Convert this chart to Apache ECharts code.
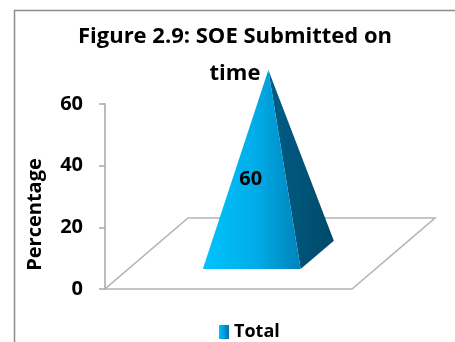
<!DOCTYPE html>
<html>
<head>
<meta charset="utf-8">
<style>
  html, body { margin: 0; padding: 0; background: #fff; }
  #chart { width: 455px; height: 342px; }
</style>
<script src="https://cdn.jsdelivr.net/npm/echarts@6/dist/echarts.min.js"></script>
</head>
<body>
<div id="chart"></div>
<script>
// Chart data
const categories = ['Total'];
const totalValues = [60];
const yTicks = { min: 0, max: 60, interval: 20 };
const titleText = 'Figure 2.9: SOE Submitted on\ntime';
const yAxisTitle = 'Percentage';

const FONT = '"Open Sans", sans-serif';

// Depth vector of the 3D floor (screen pixels from front edge to back edge)
const DEPTH_X = 83, DEPTH_Y = -71;

const chart = echarts.init(document.getElementById('chart'), null, { renderer: 'canvas' });

function renderFloor(params, api) {
  const cs = params.coordSys;
  const x0 = cs.x, x1 = cs.x + cs.width, y0 = cs.y + cs.height;
  return {
    type: 'polygon',
    shape: { points: [[x0, y0], [x1, y0], [x1 + DEPTH_X, y0 + DEPTH_Y], [x0 + DEPTH_X, y0 + DEPTH_Y]] },
    style: { fill: 'none', stroke: '#b4b4b4', lineWidth: 1.6 },
    silent: true
  };
}

function renderPyramid(params, api) {
  const cat = api.value(0);
  const v = api.value(1);
  const base = api.coord([cat, 0]);
  const top = api.coord([cat, v]);
  const h = base[1] - top[1];
  const hw = api.size([1, 0])[0] * 0.198;
  const f0 = 0.28, f1 = 0.68, fm = 0.48;
  const fl = [base[0] + f0 * DEPTH_X - hw, base[1] + f0 * DEPTH_Y];
  const fr = [base[0] + f0 * DEPTH_X + hw, base[1] + f0 * DEPTH_Y];
  const br = [base[0] + f1 * DEPTH_X + hw, base[1] + f1 * DEPTH_Y];
  const apex = [base[0] + fm * DEPTH_X, base[1] + fm * DEPTH_Y - h];
  const frontCx = (fl[0] + fr[0]) / 2;
  return {
    type: 'group',
    children: [
      {
        type: 'polygon',
        shape: { points: [fr, br, apex] },
        style: {
          fill: new echarts.graphic.LinearGradient(0, 0, 1, 0, [
            { offset: 0, color: '#005d85' },
            { offset: 1, color: '#004a6b' }
          ])
        }
      },
      {
        type: 'polygon',
        shape: { points: [fl, fr, apex] },
        style: {
          fill: new echarts.graphic.LinearGradient(0, 0, 1, 0, [
            { offset: 0, color: '#00c4fc' },
            { offset: 0.55, color: '#00ace8' },
            { offset: 1, color: '#0082ba' }
          ])
        }
      },
      {
        type: 'text',
        x: frontCx - 1,
        y: fl[1] - 0.45 * (fl[1] - apex[1]),
        style: {
          text: String(v),
          fill: '#000',
          font: 'bold 20px ' + FONT,
          align: 'center',
          verticalAlign: 'middle'
        }
      }
    ]
  };
}

chart.setOption({
  animation: false,
  backgroundColor: '#ffffff',
  title: {
    text: titleText,
    left: 230,
    textAlign: 'center',
    top: 13,
    textStyle: { fontFamily: FONT, fontWeight: 'bold', fontSize: 22, lineHeight: 37, color: '#000' }
  },
  graphic: [{
    type: 'rect',
    shape: { x: 14.5, y: 10.5, width: 500, height: 400 },
    style: { fill: 'none', stroke: '#8c8c8c', lineWidth: 1.5 },
    silent: true,
    z: 100
  }],
  legend: {
    data: [{ name: 'Total', icon: 'rect' }],
    left: 214,
    top: 318,
    itemWidth: 10,
    itemHeight: 14,
    textStyle: { fontFamily: FONT, fontWeight: 'bold', fontSize: 18, color: '#000' }
  },
  grid: { left: 105, right: 103, top: 104, bottom: 53 },
  xAxis: {
    type: 'category',
    data: categories,
    axisLine: { show: false },
    axisTick: { show: false },
    axisLabel: { show: false }
  },
  yAxis: {
    type: 'value',
    min: yTicks.min,
    max: yTicks.max,
    interval: yTicks.interval,
    name: yAxisTitle,
    nameLocation: 'middle',
    nameRotate: 90,
    nameGap: 60,
    nameTextStyle: { fontFamily: FONT, fontWeight: 'bold', fontSize: 20, color: '#000', padding: [0, 36, 0, 0] },
    axisLine: { show: true, lineStyle: { color: '#a6a6a6', width: 1.5 } },
    axisTick: { show: true, length: 6, lineStyle: { color: '#a6a6a6', width: 1.5 } },
    axisLabel: { margin: 22, fontFamily: FONT, fontWeight: 'bold', fontSize: 20, color: '#000' },
    splitLine: { show: false }
  },
  series: [
    {
      name: 'floor',
      type: 'custom',
      renderItem: renderFloor,
      data: [[0, 0]],
      z: 1,
      silent: true
    },
    {
      name: 'Total',
      type: 'custom',
      renderItem: renderPyramid,
      itemStyle: {
        color: new echarts.graphic.LinearGradient(0, 0, 1, 0, [
          { offset: 0, color: '#00c4fc' },
          { offset: 1, color: '#0070b0' }
        ])
      },
      data: categories.map((c, i) => [i, totalValues[i]]),
      z: 2
    }
  ]
});
</script>
</body>
</html>
